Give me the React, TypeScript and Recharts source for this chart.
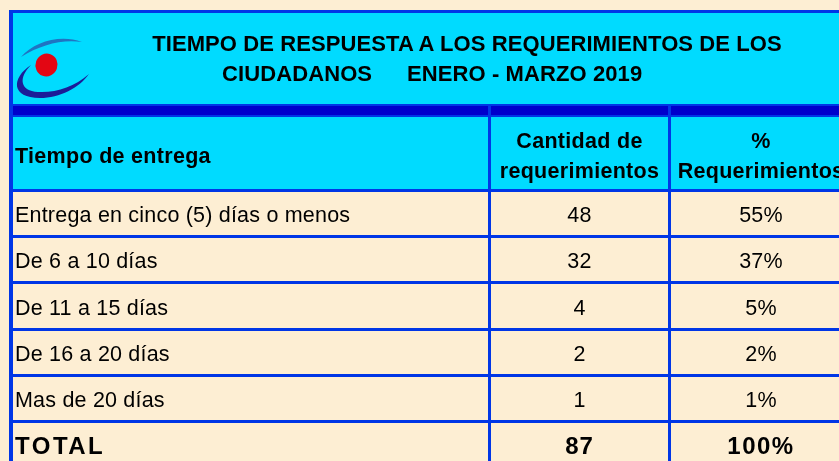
import React from "react";
import { Surface, Layer, Rectangle, Text } from "recharts";

const titleLine1 = "TIEMPO DE RESPUESTA A LOS REQUERIMIENTOS DE LOS";
const titleLine2a = "CIUDADANOS";
const titleLine2b = "ENERO - MARZO 2019";

const columnHeaders = ["Tiempo de entrega", "Cantidad de", "requerimientos", "%", "Requerimientos"];

const categories = [
  "Entrega en cinco (5) días o menos",
  "De 6 a 10 días",
  "De 11 a 15 días",
  "De 16 a 20 días",
  "Mas de 20 días",
];
const counts = [48, 32, 4, 2, 1];
const percents = [55, 37, 5, 2, 1];

const totalLabel = "TOTAL";
const totalCount = 87;
const totalPercent = 100;

const W = 839;
const H = 461;
const CREAM = "#fdeed3";
const CYAN = "#00dbff";
const LINE = "#0036e6";
const BAND = "#0000cc";
const FONT = '"Liberation Sans", Arial, sans-serif';

const COL1_X = 488;
const COL2_X = 668;
const COL2_C = 579.5;
const COL3_C = 761;
const FIRST_LINE = 189;
const ROW_H = 46.2;

const body = { fontFamily: FONT, fontSize: 21.5, letterSpacing: 0.2, fill: "#000" };
const bold = { ...body, fontWeight: 700, letterSpacing: 0.3 };
const title = { ...bold, fontSize: 22, letterSpacing: 0.1 };

function Logo() {
  return (
    <Layer>
      <path
        d="M 21 57 C 34 42, 60 34, 82 42 C 62 39, 40 45, 21 57 Z"
        fill="#1f74c2"
      />
      <path
        d="M 31 65 C 11 78, 11 98, 40 98 C 60 98, 79 88, 89 74 C 74 87, 56 93, 38 92 C 20 91, 18 78, 31 65 Z"
        fill="#1c1c98"
      />
      <ellipse cx={46.5} cy={65} rx={11} ry={11.5} fill="#e30613" transform="rotate(20 46.5 65)" />
    </Layer>
  );
}

export default function App() {
  const lineYs = [0, 1, 2, 3, 4, 5].map((i) => Math.round(FIRST_LINE + i * ROW_H));
  const rowCenter = (i: number) => (lineYs[i] + 3 + lineYs[i + 1]) / 2 + 1;

  return (
    <div style={{ position: "fixed", left: 0, top: 0, width: W, height: H }}>
      <Surface width={W} height={H} viewBox={{ x: 0, y: 0, width: W, height: H }}>
        <Rectangle x={0} y={0} width={W} height={H} fill={CREAM} />

        {/* header fills */}
        <Rectangle x={13} y={13} width={W} height={91} fill={CYAN} />
        <Rectangle x={13} y={106} width={W} height={9} fill={BAND} />
        <Rectangle x={13} y={117} width={W} height={72} fill={CYAN} />

        {/* outer frame */}
        <Rectangle x={9} y={10} width={4} height={H} fill={LINE} />
        <Rectangle x={9} y={10} width={W} height={3} fill={LINE} />

        {/* horizontal rules */}
        <Rectangle x={13} y={104} width={W} height={2} fill={LINE} />
        <Rectangle x={13} y={115} width={W} height={2} fill={LINE} />
        {lineYs.map((y) => (
          <Rectangle key={y} x={13} y={y} width={W} height={3} fill={LINE} />
        ))}

        {/* column dividers */}
        <Rectangle x={COL1_X} y={104} width={3} height={H} fill={LINE} />
        <Rectangle x={COL2_X} y={104} width={3} height={H} fill={LINE} />

        <Logo />

        {/* title */}
        <Text x={467} y={43} textAnchor="middle" verticalAnchor="middle" style={title}>
          {titleLine1}
        </Text>
        <Text x={222} y={73} textAnchor="start" verticalAnchor="middle" style={title}>
          {titleLine2a}
        </Text>
        <Text x={407} y={73} textAnchor="start" verticalAnchor="middle" style={title}>
          {titleLine2b}
        </Text>

        {/* column headers */}
        <Text x={15} y={155} textAnchor="start" verticalAnchor="middle" style={bold}>
          {columnHeaders[0]}
        </Text>
        <Text x={COL2_C} y={140.5} textAnchor="middle" verticalAnchor="middle" style={bold}>
          {columnHeaders[1]}
        </Text>
        <Text x={COL2_C} y={170} textAnchor="middle" verticalAnchor="middle" style={bold}>
          {columnHeaders[2]}
        </Text>
        <Text x={COL3_C} y={140.5} textAnchor="middle" verticalAnchor="middle" style={bold}>
          {columnHeaders[3]}
        </Text>
        <Text x={COL3_C} y={170} textAnchor="middle" verticalAnchor="middle" style={bold}>
          {columnHeaders[4]}
        </Text>

        {/* rows */}
        {categories.map((c, i) => (
          <Layer key={c}>
            <Text x={15} y={rowCenter(i)} textAnchor="start" verticalAnchor="middle" style={body}>
              {c}
            </Text>
            <Text x={COL2_C} y={rowCenter(i)} textAnchor="middle" verticalAnchor="middle" style={body}>
              {String(counts[i])}
            </Text>
            <Text x={COL3_C} y={rowCenter(i)} textAnchor="middle" verticalAnchor="middle" style={body}>
              {`${percents[i]}%`}
            </Text>
          </Layer>
        ))}

        {/* total */}
        <Text x={15} y={445.5} textAnchor="start" verticalAnchor="middle" style={{ ...bold, fontSize: 24, letterSpacing: 2.5 }}>
          {totalLabel}
        </Text>
        <Text x={COL2_C} y={445.5} textAnchor="middle" verticalAnchor="middle" style={{ ...bold, fontSize: 24, letterSpacing: 1 }}>
          {String(totalCount)}
        </Text>
        <Text x={COL3_C} y={445.5} textAnchor="middle" verticalAnchor="middle" style={{ ...bold, fontSize: 24, letterSpacing: 1.5 }}>
          {`${totalPercent}%`}
        </Text>
      </Surface>
    </div>
  );
}
